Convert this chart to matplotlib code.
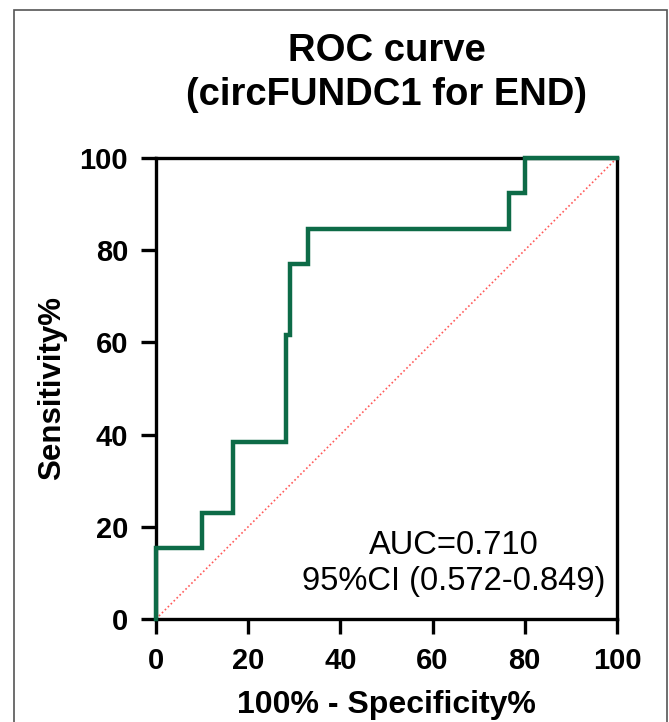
import matplotlib
matplotlib.use("Agg")
import matplotlib.pyplot as plt
from matplotlib.patches import Rectangle

plt.rcParams["font.family"] = ["Liberation Sans", "DejaVu Sans"]

# ROC step points (100% - specificity, sensitivity)
fpr = [0, 0, 10, 10, 16.7, 16.7, 28.2, 28.2, 29.0, 29.0, 33.0, 33.0, 76.5, 76.5, 80.0, 80.0, 100]
tpr = [0, 15.38, 15.38, 23.08, 23.08, 38.46, 38.46, 61.54, 61.54, 76.92, 76.92, 84.62, 84.62, 92.31, 92.31, 100, 100]
ref_x = [0, 100]
ref_y = [0, 100]
ticks = [0, 20, 40, 60, 80, 100]
auc_text = "AUC=0.710\n95%CI (0.572-0.849)"

fig = plt.figure(figsize=(6.69, 7.22), dpi=100)
ax = fig.add_axes([0.2332, 0.1427, 0.689, 0.6385])

ax.plot(ref_x, ref_y, color="#ff5a5a", lw=1.2, ls=(0, (1, 1.5)), zorder=2)
ax.plot(fpr, tpr, color="#0d6b47", lw=3.2, solid_joinstyle="miter", zorder=3, clip_on=False)

ax.set_xlim(0, 100)
ax.set_ylim(0, 100)
ax.set_xticks(ticks)
ax.set_yticks(ticks)
for s in ax.spines.values():
    s.set_linewidth(2.4)
    s.set_color("black")
ax.tick_params(length=11, width=2.4, labelsize=21, pad=9)
for lbl in ax.get_xticklabels() + ax.get_yticklabels():
    lbl.set_fontweight("bold")

ax.set_xlabel("100% - Specificity%", fontsize=23, fontweight="bold", labelpad=11)
ax.set_ylabel("Sensitivity%", fontsize=22.5, fontweight="bold", labelpad=9)
ax.set_title("ROC curve\n(circFUNDC1 for END)", fontsize=27.5, fontweight="bold",
             linespacing=1.28, pad=38)

ax.text(64.6, 12, auc_text, ha="center", va="center", multialignment="center",
        fontsize=23.5, linespacing=1.2)

# thin frame round the whole picture
fig.patches.append(Rectangle((0.021, -0.1), 0.976, 1.086, transform=fig.transFigure,
                             fill=False, edgecolor="#555555", lw=1.2))

fig.savefig("out.png", dpi=100)
